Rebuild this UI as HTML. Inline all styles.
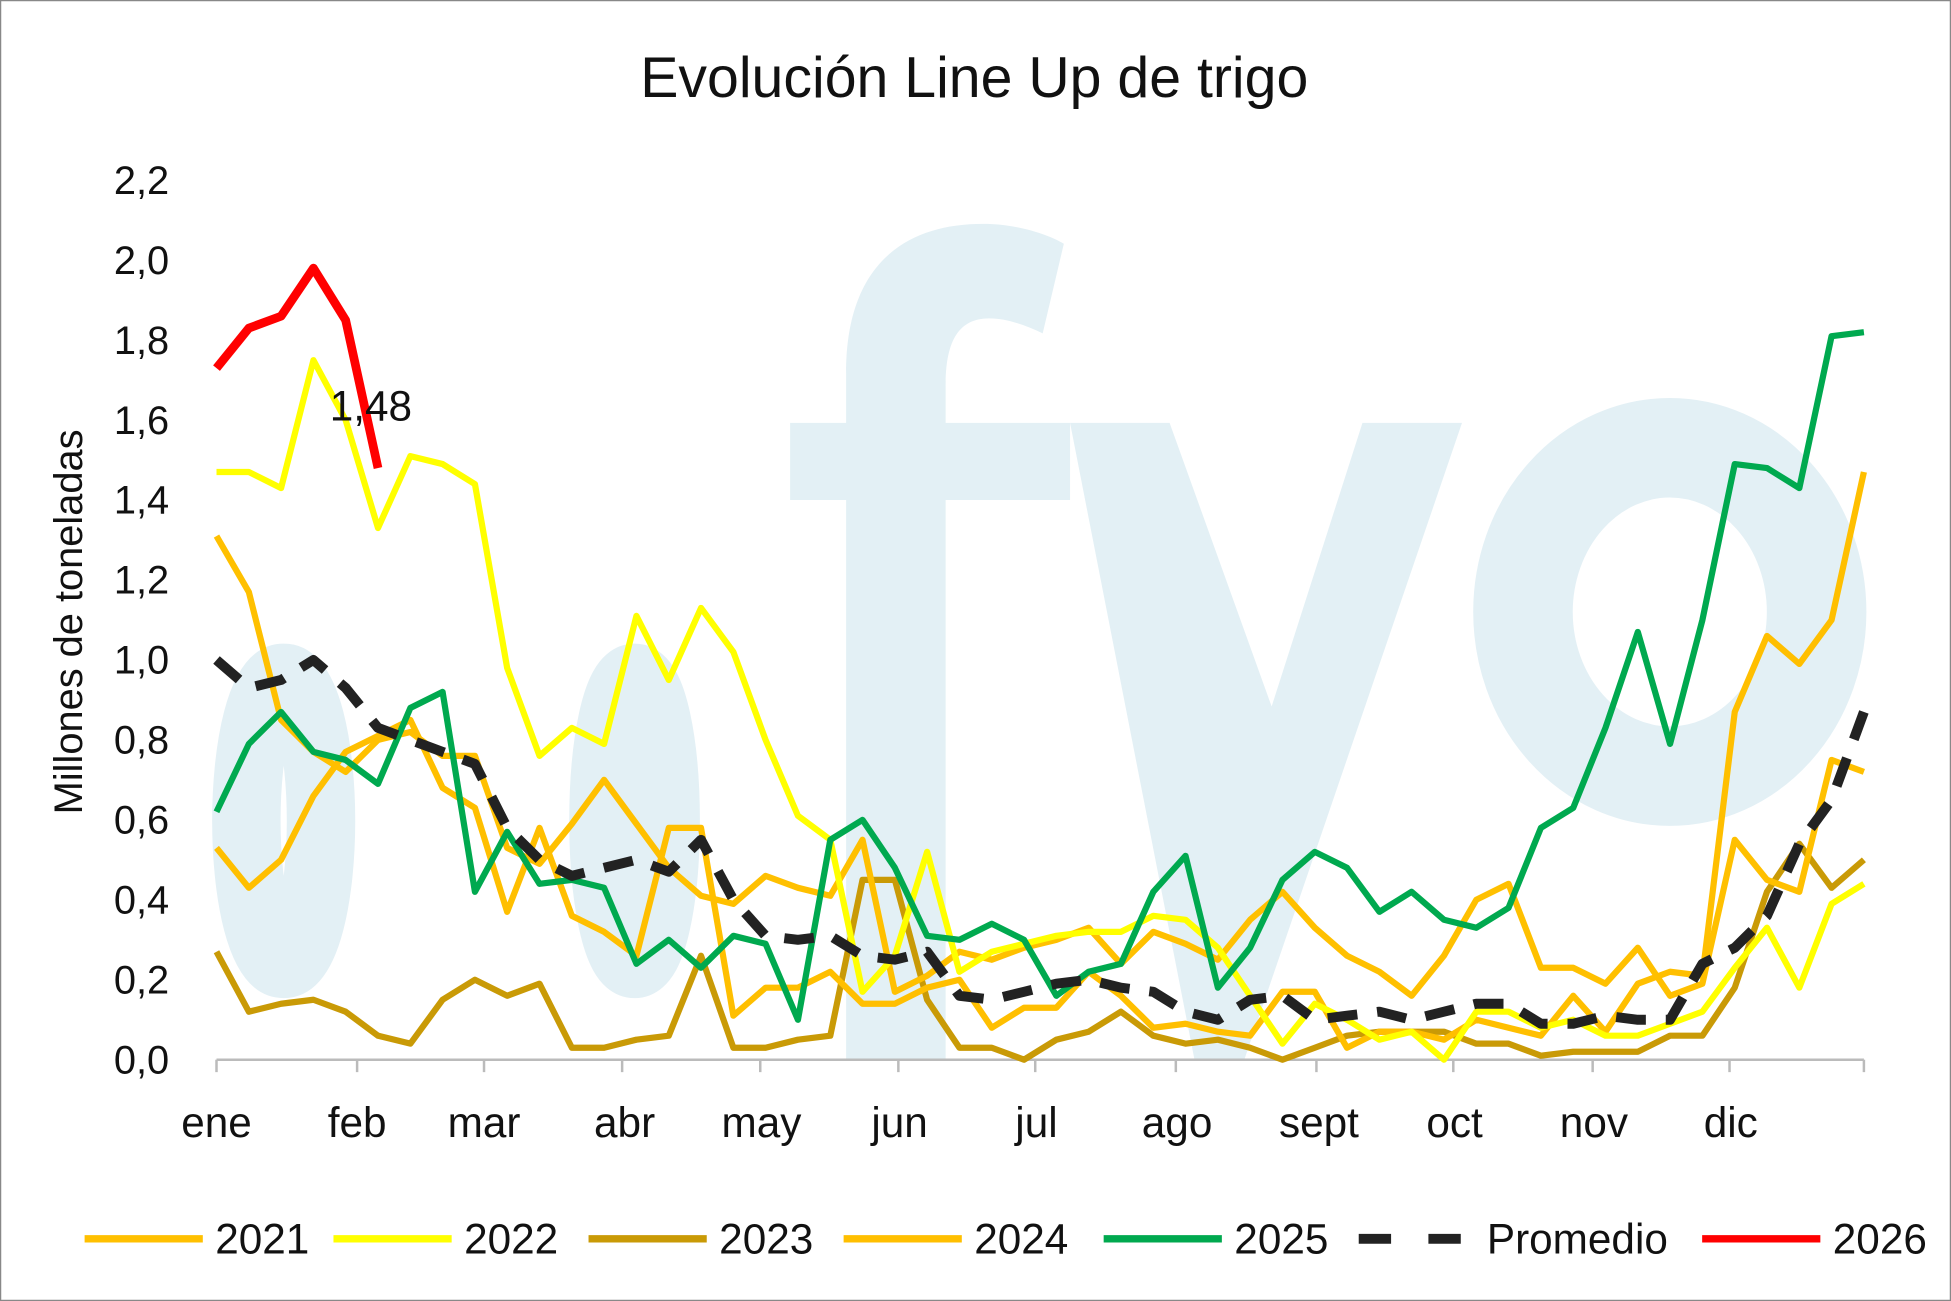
<!DOCTYPE html>
<html><head><meta charset="utf-8"><style>
html,body{margin:0;padding:0;background:#fff;}
svg{display:block;}
text{font-family:"Liberation Sans",sans-serif;fill:#111;}
</style></head><body>
<svg id="s" width="1951" height="1301" viewBox="0 0 1568 1046" preserveAspectRatio="none" xmlns="http://www.w3.org/2000/svg">
<rect x="0.5" y="0.5" width="1567" height="1045" fill="#fff" stroke="#888" stroke-width="1"/>
<g fill="#E3F0F5" stroke="none">
<path d="M680 852 L680 300 C680 210 730 180 790 180 C820 180 845 190 855 196 L838 268 C825 262 810 256 795 256 C770 256 760 275 760 310 L760 852 Z"/>
<rect x="635" y="340" width="225" height="62"/>
<path d="M860 340 L940 340 L1022 568 L1095 340 L1175 340 L1000 852 L960 852 Z"/>
<ellipse cx="1342" cy="492" rx="118" ry="132" fill="none" stroke="#E3F0F5" stroke-width="80"/>
<ellipse cx="228" cy="660" rx="30" ry="115" fill="none" stroke="#E3F0F5" stroke-width="55"/>
<ellipse cx="510" cy="660" rx="25" ry="115" fill="none" stroke="#E3F0F5" stroke-width="55"/>
</g>
<text x="783" y="78" font-size="46" text-anchor="middle">Evolución Line Up de trigo</text>
<text transform="translate(66,500) rotate(-90)" font-size="32" text-anchor="middle">Millones de toneladas</text>
<g id="yl" font-size="32" text-anchor="end"></g>
<line x1="174" y1="852" x2="1498" y2="852" stroke="#bbb" stroke-width="2"/>
<g id="xt"></g>
<g id="series" fill="none" stroke-linejoin="round"></g>
<text x="265" y="338" font-size="34">1,48</text>
<g id="leg" font-size="34"></g>
</svg>
<script>
const NS="http://www.w3.org/2000/svg";
function el(p,t,a,txt){const e=document.createElementNS(NS,t);for(const k in a)e.setAttribute(k,a[k]);if(txt!==undefined)e.textContent=txt;p.appendChild(e);return e;}
const Y=v=>852-v*321.4;
const yl=document.getElementById('yl');
for(let i=0;i<=11;i++){const v=i*0.2;el(yl,'text',{x:136,y:Y(v)+11},v.toFixed(1).replace('.',','));}
const xt=document.getElementById('xt');
const months=[["ene",174],["feb",287],["mar",389],["abr",502],["may",612],["jun",723],["jul",833],["ago",946],["sept",1060],["oct",1169],["nov",1281],["dic",1391]];
const tk=[174,287,389,500,611,722,832,945,1058,1168,1280,1390,1498];
tk.forEach(x=>el(xt,'line',{x1:x,y1:852,x2:x,y2:862,stroke:'#bbb','stroke-width':2}));
months.forEach(m=>el(xt,'text',{x:m[1],y:914,'font-size':34,'text-anchor':'middle'},m[0]));
const sp=(1498-174)/51;
function line(vals,col,w,dash){const pts=vals.map((v,i)=>(174+i*sp).toFixed(1)+","+Y(v).toFixed(1)).join(" ");
const a={points:pts,stroke:col,'stroke-width':w};if(dash){a['stroke-dasharray']=dash;}el(document.getElementById('series'),'polyline',a);}
const s2023=[0.27,0.12,0.14,0.15,0.12,0.06,0.04,0.15,0.20,0.16,0.19,0.03,0.03,0.05,0.06,0.26,0.03,0.03,0.05,0.06,0.45,0.45,0.15,0.03,0.03,0.00,0.05,0.07,0.12,0.06,0.04,0.05,0.03,0.00,0.03,0.06,0.07,0.07,0.07,0.04,0.04,0.01,0.02,0.02,0.02,0.06,0.06,0.18,0.42,0.54,0.43,0.50];
const s2021=[1.31,1.17,0.85,0.77,0.72,0.80,0.82,0.76,0.76,0.53,0.49,0.59,0.70,0.59,0.48,0.41,0.39,0.46,0.43,0.41,0.55,0.17,0.21,0.27,0.25,0.28,0.30,0.33,0.24,0.32,0.33,0.29,0.25,0.35,0.42,0.33,0.26,0.22,0.16,0.26,0.40,0.44,0.23,0.23,0.19,0.28,0.16,0.19,0.55,0.45,0.42,0.75];
s2021.push(0.72); s2021.splice(30,1);
const s2024=[0.53,0.43,0.50,0.66,0.77,0.81,0.85,0.68,0.63,0.37,0.58,0.36,0.32,0.26,0.58,0.58,0.11,0.18,0.18,0.22,0.14,0.14,0.18,0.20,0.08,0.13,0.13,0.22,0.16,0.08,0.09,0.07,0.06,0.17,0.17,0.03,0.07,0.07,0.10,0.05,0.10,0.08,0.06,0.16,0.07,0.19,0.22,0.21,0.87,1.06,0.99,1.10];
s2024.splice(38,1); s2024.push(1.47);
const s2022=[1.47,1.47,1.43,1.75,1.60,1.33,1.51,1.49,1.44,0.98,0.76,0.83,0.79,1.11,0.95,1.13,1.02,0.80,0.61,0.55,0.17,0.26,0.52,0.22,0.27,0.29,0.31,0.32,0.32,0.36,0.35,0.28,0.16,0.04,0.14,0.10,0.05,0.07,0.0,0.12,0.12,0.08,0.10,0.06,0.06,0.09,0.12,0.23,0.33,0.18,0.39,0.44];
const s2025=[0.62,0.79,0.87,0.77,0.75,0.69,0.88,0.92,0.42,0.57,0.44,0.45,0.43,0.24,0.30,0.23,0.31,0.29,0.10,0.55,0.60,0.48,0.31,0.30,0.34,0.30,0.16,0.22,0.24,0.42,0.51,0.18,0.28,0.45,0.52,0.48,0.37,0.42,0.35,0.33,0.38,0.58,0.63,0.83,1.07,0.79,1.10,1.49,1.48,1.43,1.81,1.82];
const prom=[1.0,0.93,0.95,1.0,0.93,0.83,0.80,0.77,0.74,0.58,0.50,0.46,0.48,0.50,0.47,0.55,0.40,0.31,0.30,0.31,0.26,0.25,0.27,0.16,0.15,0.17,0.19,0.20,0.18,0.17,0.12,0.10,0.15,0.16,0.10,0.11,0.12,0.10,0.12,0.14,0.14,0.09,0.09,0.11,0.10,0.10,0.24,0.28,0.36,0.54,0.65,0.87];
line(s2023,'#C99A06',5);
line(s2021,'#FFC000',5);
line(s2024,'#FFBF00',5);
line(s2022,'#FFFF00',5);
line(s2025,'#00A94F',5);
line(prom,'#222',8,'24 16');
const red=[1.73,1.83,1.86,1.98,1.85,1.48];
const rp=red.map((v,i)=>(174+i*sp).toFixed(1)+","+Y(v).toFixed(1)).join(" ");
el(document.getElementById('series'),'polyline',{points:rp,stroke:'#FF0000','stroke-width':7});
const leg=document.getElementById('leg');
const L=[["2021",68,'#FFC000'],["2022",268,'#FFFF00'],["2023",473,'#C99A06'],["2024",678,'#FFBF00'],["2025",887,'#00A94F'],["Promedio",1090,'#222'],["2026",1368,'#FF0000']];
L.forEach(l=>{const a={x1:l[1],y1:996,x2:l[1]+95,y2:996,stroke:l[2],'stroke-width':l[0]=="Promedio"?8:6};
if(l[0]=="Promedio"){a['stroke-dasharray']='26 30';a.x1=l[1]+2;}
el(leg,'line',a);el(leg,'text',{x:l[1]+105,y:1008},l[0]);});
</script>
</body></html>
